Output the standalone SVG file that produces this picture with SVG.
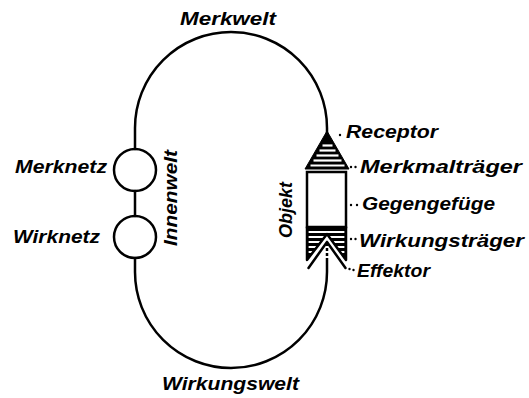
<svg xmlns="http://www.w3.org/2000/svg" width="529" height="398" viewBox="0 0 529 398">
  <style>
    .ln { fill: none; stroke: #000; stroke-width: 2.5; stroke-linecap: round; stroke-linejoin: round; }
    .lbl { font-family: "Liberation Sans", Arial, sans-serif; font-style: italic; font-weight: bold; font-size: 19px; fill: #000; }
    .wh { stroke: #fff; stroke-width: 2.2; }
    .dot { fill: #000; }
  </style>
  <rect width="529" height="398" fill="#fff"/>

  <g id="connectors">
    <path class="ln" d="M135,149 L135,128 A96,96 0 0 1 327,128 L327,133"/>
    <path class="ln" d="M135,191 L135,216"/>
    <path class="ln" d="M135,258 L135,272 A96,96 0 0 0 327,272 L327,242"/>
    <!-- leaders -->
    <circle class="dot" cx="340" cy="135" r="1.2"/>
    <circle class="dot" cx="351" cy="167" r="1.2"/>
    <circle class="dot" cx="355.5" cy="167" r="1.2"/>
    <circle class="dot" cx="351" cy="205" r="1.2"/>
    <circle class="dot" cx="357" cy="205" r="1.2"/>
    <circle class="dot" cx="351" cy="239" r="1.2"/>
    <circle class="dot" cx="355.5" cy="239" r="1.2"/>
    <circle class="dot" cx="349.5" cy="269" r="1.2"/>
    <circle class="dot" cx="353.5" cy="270" r="1.2"/>
  </g>

  <g id="merkwelt"><text class="lbl" x="180" y="25" textLength="96" lengthAdjust="spacingAndGlyphs">Merkwelt</text></g>
  <g id="wirkungswelt"><text class="lbl" x="162" y="390" textLength="137" lengthAdjust="spacingAndGlyphs">Wirkungswelt</text></g>

  <g id="merknetz">
    <circle class="ln" cx="135" cy="170" r="21"/>
    <text class="lbl" x="15" y="173" textLength="92" lengthAdjust="spacingAndGlyphs">Merknetz</text>
  </g>
  <g id="wirknetz">
    <circle class="ln" cx="135" cy="237" r="21"/>
    <text class="lbl" x="13" y="243" textLength="87" lengthAdjust="spacingAndGlyphs">Wirknetz</text>
  </g>
  <g id="innenwelt">
    <text class="lbl" transform="translate(177,246) rotate(-90)" x="0" y="0" textLength="96" lengthAdjust="spacingAndGlyphs">Innenwelt</text>
  </g>

  <g id="objekt">
    <text class="lbl" transform="translate(292,238) rotate(-90)" x="0" y="0" textLength="56" lengthAdjust="spacingAndGlyphs">Objekt</text>
    <!-- receptor head -->
    <polygon points="327,131 349,169 305,169" fill="#000" stroke="#000" stroke-width="1" stroke-linejoin="round"/>
    <line class="wh" x1="322.5" y1="145.5" x2="332.5" y2="145.5"/>
    <line class="wh" x1="319.5" y1="150.5" x2="335.5" y2="150.5"/>
    <line class="wh" x1="316.5" y1="155.5" x2="338.5" y2="155.5"/>
    <line class="wh" x1="313.5" y1="160.5" x2="341.5" y2="160.5"/>
    <line class="wh" x1="310.5" y1="165.5" x2="344.5" y2="165.5"/>
    <!-- body -->
    <rect x="307" y="172" width="39" height="55" fill="#fff" stroke="#000" stroke-width="2.5"/>
    <!-- effector block -->
    <polygon points="307,227 346,227 346,260 327,234 307,260" fill="#000"/>
    <line class="wh" x1="308.5" y1="232" x2="344.5" y2="232"/>
    <line class="wh" x1="308.5" y1="237" x2="344.5" y2="237"/>
    <line class="wh" x1="308.5" y1="242" x2="344.5" y2="242"/>
    <line class="wh" x1="308.5" y1="247" x2="344.5" y2="247"/>
    <line class="wh" x1="308.5" y1="252" x2="344.5" y2="252"/>
    <line class="wh" x1="308.5" y1="257" x2="344.5" y2="257"/>
    <path class="ln" d="M307,227 L307,260 L327,234 L346,260 L346,227"/>
    <path class="ln" d="M308.5,268 L327,242 L345.5,268" stroke-width="3"/>
  </g>

  <g id="receptor"><text class="lbl" x="346" y="138" textLength="92" lengthAdjust="spacingAndGlyphs">Receptor</text></g>
  <g id="merkmaltraeger"><text class="lbl" x="360" y="173" textLength="162" lengthAdjust="spacingAndGlyphs">Merkmalträger</text></g>
  <g id="gegengefuege"><text class="lbl" x="362" y="210" textLength="133" lengthAdjust="spacingAndGlyphs">Gegengefüge</text></g>
  <g id="wirkungstraeger"><text class="lbl" x="359" y="247" textLength="165" lengthAdjust="spacingAndGlyphs">Wirkungsträger</text></g>
  <g id="effektor"><text class="lbl" x="357" y="277" textLength="73" lengthAdjust="spacingAndGlyphs">Effektor</text></g>
</svg>
